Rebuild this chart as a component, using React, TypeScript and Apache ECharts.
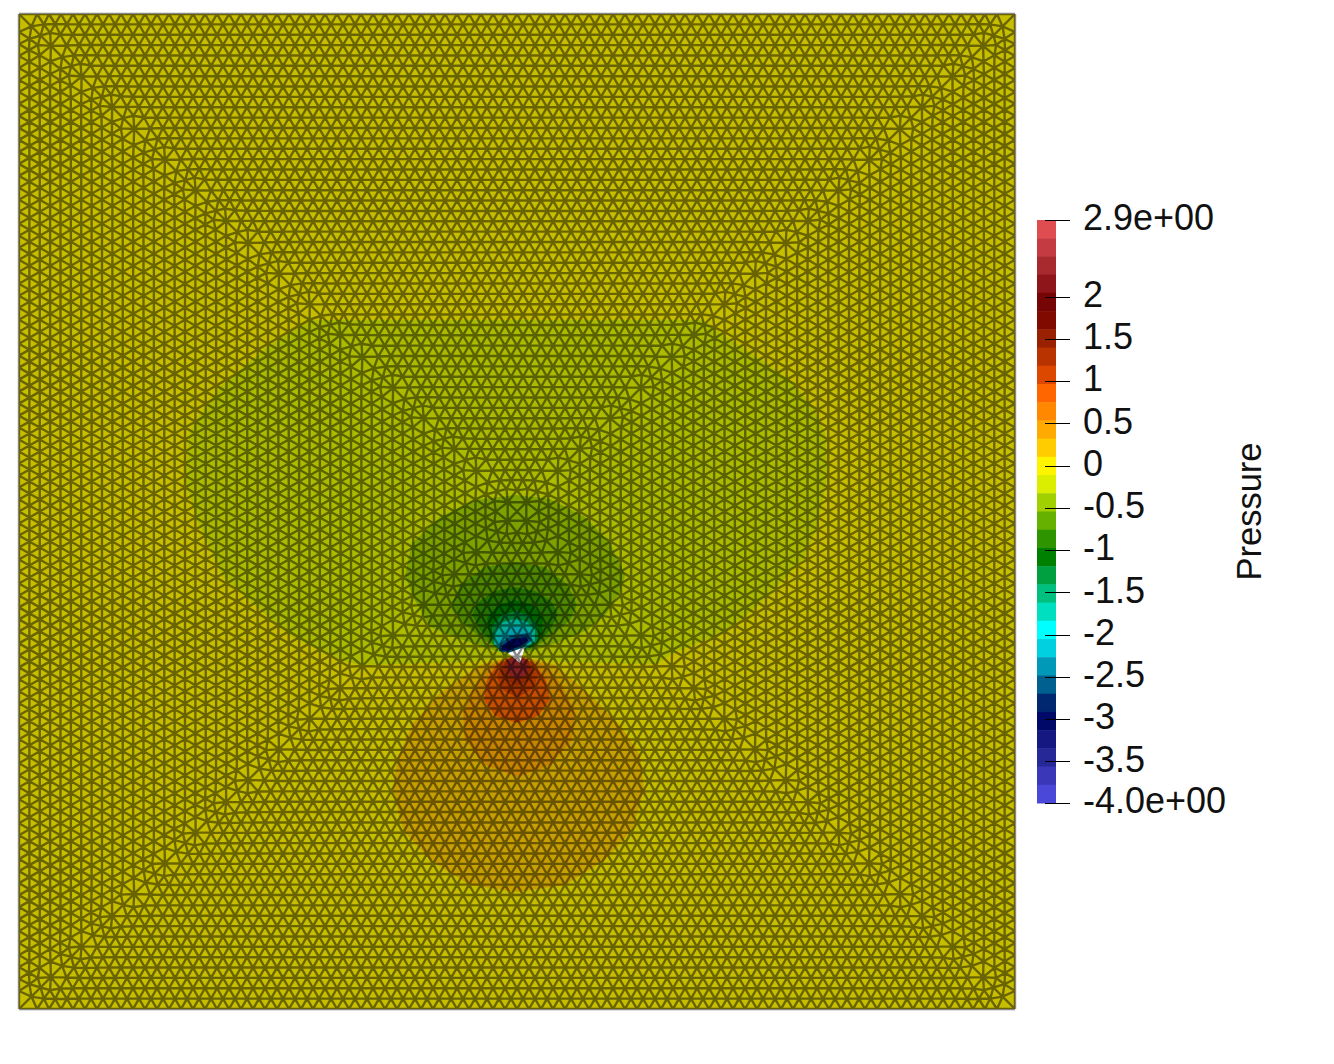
import React, { useEffect, useRef } from "react";
import * as echarts from "echarts";

// Colour table of the scalar bar, top (high pressure) to bottom (low pressure)
const palette = [
  "#e04d50", "#c43c42", "#a92a2e", "#8e1519", "#760505", "#800a00", "#992000", "#b83300",
  "#dc4800", "#ff6600", "#ff8800", "#ffaa00", "#ffcc00", "#fff400", "#dcee00", "#a0d000",
  "#66b000", "#2e9400", "#008000", "#00a040", "#00c080", "#00e0c0", "#00ffff", "#00d0e0",
  "#009ab8", "#006090", "#002870", "#000868", "#151880", "#262898", "#3a38b8", "#4a48d8",
];
const pressureMax = 2.91;
const pressureMin = -3.99;
const tickValues = [2.91, 2, 1.5, 1, 0.5, 0, -0.5, -1, -1.5, -2, -2.5, -3, -3.5, -3.99];
const tickLabels = ["2.9e+00", "2", "1.5", "1", "0.5", "0", "-0.5", "-1", "-1.5", "-2", "-2.5", "-3", "-3.5", "-4.0e+00"];

// Domain of the square, in picture units
const domainX = [19, 1015];
const domainY = [14, 1009];

// Iso-pressure regions: [x, y] outlines, paired with palette index
type P = [number, number];
const wholeDomain: P[] = [[19, 14], [1015, 14], [1015, 1009], [19, 1009]];
const lowOuter: P[] = [
  [310, 320], [703, 320], [720, 333], [757, 357], [790, 380], [813, 407], [825, 433], [828, 473], [817, 527],
  [803, 560], [780, 583], [753, 610], [723, 633], [673, 653], [657, 664], [560, 662], [517, 656], [470, 662],
  [360, 665], [340, 660], [293, 637], [257, 607], [223, 577], [197, 520], [185, 480], [190, 430], [220, 387], [267, 347],
];
const lowMid: P[] = [
  [515, 495], [550, 499], [585, 517], [610, 543], [625, 575], [620, 592], [607, 613], [587, 630], [557, 643],
  [527, 653], [505, 653], [493, 650], [463, 640], [430, 627], [413, 597], [405, 575], [412, 543], [440, 517], [475, 500],
];
const lowInner: P[] = [
  [515, 562], [545, 567], [568, 585], [577, 605], [570, 620], [550, 637], [530, 650], [500, 650], [480, 637],
  [460, 620], [452, 605], [460, 585], [485, 567],
];
const lowCore1: P[] = [
  [515, 587], [535, 591], [552, 602], [558, 615], [550, 630], [533, 647], [497, 647], [480, 630], [472, 615], [478, 602], [495, 591],
];
const lowCore2: P[] = [
  [515, 600], [532, 605], [543, 618], [542, 634], [530, 648], [500, 650], [490, 636], [487, 618], [498, 605],
];
const lowCore2b: P[] = [
  [515, 611], [528, 615], [538, 626], [538, 640], [526, 649], [503, 652], [492, 642], [492, 626], [502, 615],
];
const lowCore3: P[] = [
  [515, 619], [527, 622], [535, 630], [535, 641], [525, 648], [503, 652], [494, 644], [495, 631], [503, 622],
];
const lowCore4: P[] = [
  [515, 626], [525, 628], [532, 634], [532, 641], [522, 647], [505, 652], [497, 647], [498, 637], [505, 630],
];
const lowCore5: P[] = [[500, 644], [510, 636], [527, 633], [532, 640], [525, 646], [510, 653], [499, 651]];
const lowCore6: P[] = [[503, 645], [512, 639], [526, 637], [528, 641], [520, 646], [508, 651], [501, 650]];
const highOuter: P[] = [
  [517, 655], [480, 665], [440, 693], [413, 723], [397, 760], [393, 790], [403, 830], [430, 860], [470, 885], [517, 892],
  [565, 885], [605, 860], [632, 830], [644, 790], [640, 755], [620, 725], [590, 695], [555, 665],
];
const highMid: P[] = [
  [517, 655], [490, 665], [475, 685], [463, 712], [465, 740], [485, 765], [518, 777], [550, 765], [572, 740], [575, 712],
  [562, 685], [545, 665],
];
const highInner: P[] = [
  [517, 655], [497, 664], [487, 680], [484, 700], [495, 716], [517, 723], [538, 716], [550, 700], [546, 680], [535, 664],
];
const highCore1: P[] = [[517, 655], [503, 662], [497, 675], [500, 688], [517, 698], [534, 688], [538, 675], [531, 662]];
const highCore2: P[] = [[517, 655], [506, 660], [501, 671], [507, 681], [517, 686], [528, 681], [533, 671], [528, 660]];
const highCore3: P[] = [[517, 656], [509, 660], [506, 668], [511, 676], [518, 679], [525, 676], [529, 668], [525, 660]];
const meshHole: P[] = [[508, 653], [525, 647], [520, 663]];

const regionShapes: P[][] = [
  wholeDomain, lowOuter, lowMid, lowInner, lowCore1, lowCore2, lowCore2b, lowCore3, lowCore4, lowCore5, lowCore6,
  highOuter, highMid, highInner, highCore1, highCore2, highCore3,
];
const regionLevels = [13, 14, 15, 16, 17, 18, 19, 21, 23, 25, 27, 12, 11, 9, 8, 7, 2];

// Front-layer spacing of the triangulated mesh
const meshEdge = 12;
const meshLayers = 48;
const smoothingPasses = 4;
const lighting = 0.78;

function shade(hex: string, f: number) {
  const n = parseInt(hex.slice(1), 16);
  const r = Math.round(((n >> 16) & 255) * f);
  const g = Math.round(((n >> 8) & 255) * f);
  const b = Math.round((n & 255) * f);
  return `rgb(${r},${g},${b})`;
}

function layerNodes(k: number, half: number) {
  const meshRow = half / meshLayers;
  const a = half - k * meshRow;
  const off = k % 2 ? meshEdge / 2 : 0;
  const nodes = [-a];
  if (a < 1e-6) return nodes;
  const maxI = Math.ceil(a / meshEdge) + 1;
  for (let i = -maxI; i <= maxI; i++) {
    const t = i * meshEdge + off;
    if (t > -a + meshEdge * 0.55 && t < a - meshEdge * 0.55) nodes.push(t);
  }
  nodes.push(a);
  return nodes;
}

// Advancing-front triangulation of the square, relaxed, as line segments in domain units
function buildMeshSegments() {
  const cx = (domainX[0] + domainX[1]) / 2;
  const cy = (domainY[0] + domainY[1]) / 2;
  const half = (domainX[1] - domainX[0]) / 2;
  const sy = (domainY[1] - domainY[0]) / (domainX[1] - domainX[0]);
  const meshRow = half / meshLayers;
  const place = [
    (t: number, d: number): P => [cx + t, cy + (d - half) * sy],
    (t: number, d: number): P => [cx + half - d, cy + t * sy],
    (t: number, d: number): P => [cx + t, cy + (half - d) * sy],
    (t: number, d: number): P => [cx - half + d, cy + t * sy],
  ];
  const ids = new Map<string, number>();
  const pts: P[] = [];
  const id = (p: P) => {
    const key = `${p[0].toFixed(1)},${p[1].toFixed(1)}`;
    let v = ids.get(key);
    if (v === undefined) {
      v = pts.length;
      ids.set(key, v);
      pts.push([p[0], p[1]]);
    }
    return v;
  };
  const edges = new Set<string>();
  const add = (p: P, q: P) => {
    const a = id(p);
    const b = id(q);
    if (a !== b) edges.add(a < b ? `${a}|${b}` : `${b}|${a}`);
  };
  for (let k = 0; k < meshLayers; k++) {
    const a = layerNodes(k, half);
    const da = k * meshRow;
    const b = layerNodes(k + 1, half);
    const db = (k + 1) * meshRow;
    for (const side of place) {
      for (let i = 0; i + 1 < a.length; i++) add(side(a[i], da), side(a[i + 1], da));
      let i = 0;
      let j = 0;
      add(side(a[0], da), side(b[0], db));
      while (i < a.length - 1 || j < b.length - 1) {
        const advA = i < a.length - 1 ? Math.abs(a[i + 1] - b[j]) : Infinity;
        const advB = j < b.length - 1 ? Math.abs(a[i] - b[j + 1]) : Infinity;
        if (advA <= advB) i++;
        else j++;
        add(side(a[i], da), side(b[j], db));
      }
    }
  }
  const pairs = [...edges].map((e) => e.split("|").map(Number));
  const onBoundary = (p: P) =>
    Math.abs(p[0] - domainX[0]) < 0.2 || Math.abs(p[0] - domainX[1]) < 0.2 ||
    Math.abs(p[1] - domainY[0]) < 0.2 || Math.abs(p[1] - domainY[1]) < 0.2;
  const fixed = pts.map(onBoundary);
  for (let pass = 0; pass < smoothingPasses; pass++) {
    const sum = pts.map(() => [0, 0, 0]);
    for (const [a, b] of pairs) {
      sum[a][0] += pts[b][0]; sum[a][1] += pts[b][1]; sum[a][2]++;
      sum[b][0] += pts[a][0]; sum[b][1] += pts[a][1]; sum[b][2]++;
    }
    pts.forEach((p, i) => {
      if (!fixed[i] && sum[i][2]) {
        p[0] = sum[i][0] / sum[i][2];
        p[1] = sum[i][1] / sum[i][2];
      }
    });
  }
  return pairs.map(([a, b]) => [pts[a], pts[b]] as [P, P]);
}

const meshSegments = buildMeshSegments();

echarts.graphic.registerShape(
  "meshEdges",
  echarts.graphic.extendShape({
    type: "meshEdges",
    shape: { segs: [] as number[] },
    buildPath(ctx: any, shape: any) {
      const s = shape.segs;
      for (let i = 0; i < s.length; i += 4) {
        ctx.moveTo(s[i], s[i + 1]);
        ctx.lineTo(s[i + 2], s[i + 3]);
      }
    },
  }) as any,
);

export default function App() {
  const ref = useRef<HTMLDivElement>(null);
  useEffect(() => {
    document.body.style.margin = "0";
    const chart = echarts.init(ref.current!, null, { renderer: "svg" });
    const font = "'Liberation Sans'";
    const bandStep = (pressureMax - pressureMin) / palette.length;
    chart.setOption({
      animation: false,
      backgroundColor: "#fff",
      grid: [
        { left: 19, top: 14, width: 996, height: 995 },
        { left: 1037, top: 220, width: 19, height: 583 },
      ],
      xAxis: [
        { gridIndex: 0, type: "value", min: domainX[0], max: domainX[1], show: false },
        { gridIndex: 1, type: "value", min: 0, max: 1, show: false },
      ],
      yAxis: [
        { gridIndex: 0, type: "value", min: domainY[0], max: domainY[1], inverse: true, show: false },
        {
          gridIndex: 1,
          type: "value",
          min: pressureMin,
          max: pressureMax,
          position: "right",
          offset: -8,
          z: 10,
          splitLine: { show: false },
          axisLine: { show: false },
          axisTick: { show: true, inside: false, length: 25, customValues: tickValues, lineStyle: { color: "#000", width: 1 } },
          axisLabel: {
            show: true,
            customValues: tickValues,
            margin: 35,
            fontFamily: font,
            fontSize: 36,
            color: "#111",
            verticalAlign: "bottom",
            lineHeight: 5,
            hideOverlap: false,
            formatter: (v: number) => tickLabels[tickValues.indexOf(v)] ?? String(v),
          },
          name: "Pressure",
          nameLocation: "middle",
          nameRotate: 90,
          nameGap: 183,
          nameTextStyle: { fontFamily: font, fontSize: 34.5, color: "#111" },
        },
      ],
      series: [
        {
          type: "custom",
          xAxisIndex: 0,
          yAxisIndex: 0,
          silent: true,
          clip: false,
          z: 1,
          data: regionShapes.map((_, i) => [i]),
          renderItem: (params: any, api: any) => {
            const i = params.dataIndex;
            return {
              type: "polygon",
              shape: { points: regionShapes[i].map((p) => api.coord(p)) },
              style: { fill: shade(palette[regionLevels[i]], lighting) },
            };
          },
        },
        {
          type: "custom",
          xAxisIndex: 0,
          yAxisIndex: 0,
          silent: true,
          clip: false,
          z: 2,
          data: [[0]],
          renderItem: (_: any, api: any) => ({
            type: "polygon",
            shape: { points: meshHole.map((p) => api.coord(p)) },
            style: { fill: "#ffffff" },
          }),
        },
        {
          type: "custom",
          xAxisIndex: 0,
          yAxisIndex: 0,
          silent: true,
          clip: false,
          z: 3,
          data: [[0]],
          renderItem: (_: any, api: any) => {
            const segs: number[] = [];
            for (const [p, q] of meshSegments) {
              const a = api.coord(p);
              const b = api.coord(q);
              segs.push(a[0], a[1], b[0], b[1]);
            }
            return {
              type: "meshEdges",
              shape: { segs },
              style: { fill: "none", stroke: "rgba(0,0,0,0.47)", lineWidth: 2.4 },
            };
          },
        },
        {
          type: "custom",
          xAxisIndex: 1,
          yAxisIndex: 1,
          silent: true,
          clip: false,
          z: 1,
          data: palette.map((_, i) => [pressureMax - i * bandStep, pressureMax - (i + 1) * bandStep]),
          renderItem: (params: any, api: any) => {
            const tl = api.coord([0, api.value(0)]);
            const br = api.coord([1, api.value(1)]);
            return {
              type: "rect",
              shape: { x: tl[0], y: tl[1], width: br[0] - tl[0], height: br[1] - tl[1] + 0.5 },
              style: { fill: palette[params.dataIndex] },
            };
          },
        },
      ],
    });
    return () => chart.dispose();
  }, []);
  return <div ref={ref} style={{ position: "fixed", left: 0, top: 0, width: 1334, height: 1064 }} />;
}
